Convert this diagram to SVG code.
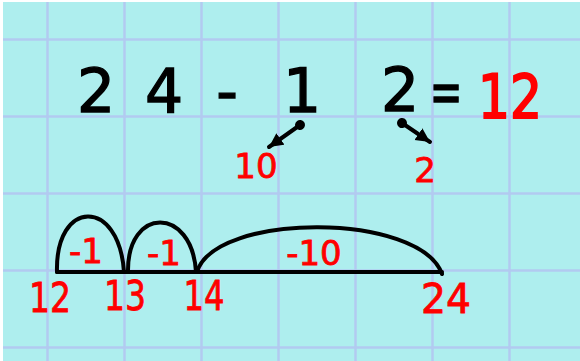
<svg xmlns="http://www.w3.org/2000/svg" width="580" height="361" viewBox="0 0 580 361">
  <style>
    .grid line { stroke: #b2caf0; stroke-width: 2.5; }
    .blk { font-family: "DejaVu Sans", "Liberation Sans", sans-serif; fill: #000; stroke: #000; stroke-width: 1.3; text-anchor: middle; }
    .red { font-family: "DejaVu Sans", "Liberation Sans", sans-serif; fill: #ff0000; stroke: #ff0000; stroke-width: 0.8; text-anchor: middle; }
    .big { font-size: 60px; }
    .mid { font-size: 40px; }
    .sm { font-size: 34px; }
    .ink { fill: none; stroke: #000; stroke-width: 4; stroke-linecap: round; }
  </style>
  <defs>
    <marker id="head" markerUnits="userSpaceOnUse" markerWidth="16" markerHeight="16" refX="14" refY="7" orient="auto">
      <path d="M0,0 L14,7 L0,14 Z" fill="#000"/>
    </marker>
    <marker id="dot" markerUnits="userSpaceOnUse" markerWidth="12" markerHeight="12" refX="6" refY="6" orient="auto">
      <circle cx="6" cy="6" r="5" fill="#000"/>
    </marker>
  </defs>
  <rect x="0" y="0" width="580" height="361" fill="#ffffff"/>
  <rect x="3" y="2" width="577" height="359" fill="#aeeeee"/>
  <g class="grid">
    <line x1="47.5" y1="2" x2="47.5" y2="361"/>
    <line x1="124.5" y1="2" x2="124.5" y2="361"/>
    <line x1="201.5" y1="2" x2="201.5" y2="361"/>
    <line x1="278.5" y1="2" x2="278.5" y2="361"/>
    <line x1="355.5" y1="2" x2="355.5" y2="361"/>
    <line x1="432.5" y1="2" x2="432.5" y2="361"/>
    <line x1="509.5" y1="2" x2="509.5" y2="361"/>
    <line x1="3" y1="39.5" x2="580" y2="39.5"/>
    <line x1="3" y1="116.5" x2="580" y2="116.5"/>
    <line x1="3" y1="193.5" x2="580" y2="193.5"/>
    <line x1="3" y1="270.5" x2="580" y2="270.5"/>
    <line x1="3" y1="347.5" x2="580" y2="347.5"/>
  </g>
  <g id="equation">
    <text class="blk big" x="96" y="112">2</text>
    <text class="blk big" x="164" y="112">4</text>
    <text class="blk big" x="227" y="112">-</text>
    <text class="blk big" x="302" y="112">1</text>
    <text class="blk big" x="400" y="111">2</text>
    <text class="blk big" transform="translate(446,112) scale(0.65,1)" x="0" y="0">=</text>
    <text class="red big" x="510" y="118" textLength="64" lengthAdjust="spacingAndGlyphs" style="stroke-width:2">12</text>
  </g>
  <g id="connectors">
    <line class="ink" x1="300" y1="125" x2="269" y2="147" marker-start="url(#dot)" marker-end="url(#head)"/>
    <line class="ink" x1="402" y1="123" x2="430" y2="142" marker-start="url(#dot)" marker-end="url(#head)"/>
  </g>
  <g id="partition">
    <text class="red sm" x="256" y="178">10</text>
    <text class="red sm" x="425" y="182">2</text>
  </g>
  <g id="numberline">
    <path class="ink" d="M57,272 L442,272"/>
    <path class="ink" d="M57,272 C55,199 119,197 124,272"/>
    <path class="ink" d="M128,272 C127,206 192,206 196,272"/>
    <path class="ink" d="M197,272 C215,212 420,212 442,274"/>
  </g>
  <g id="jumps">
    <text class="red sm" x="86" y="263">-1</text>
    <text class="red sm" x="164" y="265">-1</text>
    <text class="red sm" x="314" y="265">-10</text>
  </g>
  <g id="ticks">
    <text class="red mid" x="50" y="312" textLength="42" lengthAdjust="spacingAndGlyphs">12</text>
    <text class="red mid" x="125" y="310" textLength="42" lengthAdjust="spacingAndGlyphs">13</text>
    <text class="red mid" x="204" y="310" textLength="41" lengthAdjust="spacingAndGlyphs">14</text>
    <text class="red mid" x="446" y="313" textLength="50" lengthAdjust="spacingAndGlyphs">24</text>
  </g>
</svg>
